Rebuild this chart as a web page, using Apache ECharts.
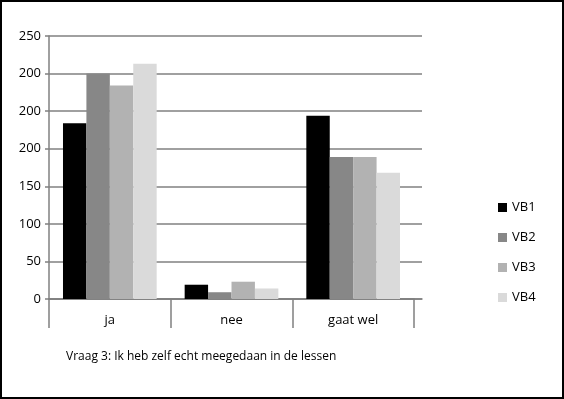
<!DOCTYPE html>
<html>
<head>
<meta charset="utf-8">
<script src="https://cdn.jsdelivr.net/npm/echarts@6/dist/echarts.min.js"></script>
<style>
  html, body { margin: 0; padding: 0; background: #fff; }
  #chart { width: 564px; height: 399px; }
</style>
</head>
<body>
<div id="chart"></div>
<script>
// categories and series (values on the drawn scale)
const categories = ['ja', 'nee', 'gaat wel'];
const seriesNames = ['VB1', 'VB2', 'VB3', 'VB4'];
const vb1 = [234, 19, 244];
const vb2 = [300, 9, 189];
const vb3 = [284, 23, 189];
const vb4 = [313, 14, 168];
// tick labels as printed on the original axis
const yTickLabels = ['0', '50', '100', '150', '200', '200', '200', '250'];
const colors = ['#000000', '#878787', '#b2b2b2', '#dadada'];

const chart = echarts.init(document.getElementById('chart'));
const font = '"Open Sans", sans-serif';
const gray = '#808080';

const seriesData = [vb1, vb2, vb3, vb4];
const series = seriesNames.map((name, i) => ({
  name: name,
  type: 'bar',
  xAxisIndex: 1,
  yAxisIndex: 1,
  data: seriesData[i],
  barGap: '0%',
  barCategoryGap: '23%',
  itemStyle: { color: colors[i] },
  emphasis: { disabled: true }
}));

chart.setOption({
  animation: false,
  backgroundColor: '#ffffff',
  textStyle: { fontFamily: font },
  graphic: [
    {
      type: 'rect',
      shape: { x: 1, y: 1, width: 562, height: 397 },
      style: { fill: 'none', stroke: '#000', lineWidth: 2 }
    },
    {
      type: 'text',
      left: 66,
      top: 351,
      style: {
        text: 'Vraag 3: Ik heb zelf echt meegedaan in de lessen',
        font: '12px "Open Sans", sans-serif',
        fill: '#000'
      }
    }
  ],
  legend: {
    orient: 'vertical',
    left: 493,
    top: 196,
    itemWidth: 9,
    itemHeight: 9,
    itemGap: 17,
    icon: 'rect',
    textStyle: { fontSize: 13, color: '#000', fontFamily: font },
    data: seriesNames
  },
  grid: [
    { left: 49, right: 142, top: 36, bottom: 100 },
    { left: 49, right: 150, top: 36, bottom: 100 }
  ],
  xAxis: [
    {
      gridIndex: 0,
      type: 'value',
      show: true,
      axisLine: { show: true, lineStyle: { color: gray, width: 1.5 } },
      axisTick: { show: false },
      axisLabel: { show: false },
      splitLine: { show: false }
    },
    {
      gridIndex: 1,
      type: 'category',
      data: categories,
      axisLine: { show: true, lineStyle: { color: gray, width: 1.5 } },
      axisTick: { show: true, length: 29, alignWithLabel: false, lineStyle: { color: gray, width: 1.5 } },
      axisLabel: { color: '#000', fontSize: 13, margin: 15, fontFamily: font }
    }
  ],
  yAxis: [
    {
      gridIndex: 0,
      type: 'value',
      min: 0,
      max: 350,
      interval: 50,
      axisLine: { show: true, lineStyle: { color: gray, width: 1.5 } },
      axisTick: { show: true, length: 4, lineStyle: { color: gray, width: 1.5 } },
      axisLabel: {
        color: '#000',
        fontSize: 13,
        margin: 8,
        fontFamily: font,
        formatter: v => yTickLabels[Math.round(v / 50)]
      },
      splitLine: { show: true, lineStyle: { color: gray, width: 1.5 } }
    },
    {
      gridIndex: 1,
      type: 'value',
      min: 0,
      max: 350,
      interval: 50,
      show: false
    }
  ],
  series: series
});
</script>
</body>
</html>
